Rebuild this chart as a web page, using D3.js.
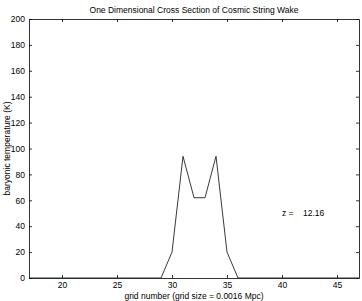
<!DOCTYPE html>
<html>
<head>
<meta charset="utf-8">
<script src="https://cdn.jsdelivr.net/npm/d3@7"></script>
<style>
body { margin: 0; background: #fff; }
svg { display: block; font-family: "Liberation Sans", Arial, sans-serif; }
</style>
</head>
<body>
<svg id="plot" width="362" height="301"></svg>
<script>
let svg = d3.select("#plot")

let margin_left = 29, margin_top = 19, plot_w = 330, plot_h = 259

// grid cells and temperature values
let grid = d3.range(17, 48)
let peak_x = [29, 30, 31, 32, 33, 34, 35, 36]
let peak_y = [0, 20, 94, 62, 62, 94, 20, 0]
let temps = grid.map(g => { let i = peak_x.indexOf(g); return i < 0 ? 0 : peak_y[i] })

let x_ticks = [20, 25, 30, 35, 40, 45]
let y_ticks = [0, 20, 40, 60, 80, 100, 120, 140, 160, 180, 200]

let x_scale = d3.scaleLinear([17, 47], [margin_left, margin_left + plot_w])
let y_scale = d3.scaleLinear([0, 200], [margin_top + plot_h, margin_top])

// axes: ticks point inward, box on all four sides
let gx = svg.append("g").attr("transform", `translate(0,${margin_top + plot_h})`)
  .call(d3.axisBottom(x_scale).tickValues(x_ticks).tickSizeInner(-3).tickSizeOuter(0).tickPadding(4))
let gxt = svg.append("g").attr("transform", `translate(0,${margin_top})`)
  .call(d3.axisTop(x_scale).tickValues(x_ticks).tickSizeInner(-3).tickSizeOuter(0).tickFormat(""))
let gy = svg.append("g").attr("transform", `translate(${margin_left},0)`)
  .call(d3.axisLeft(y_scale).tickValues(y_ticks).tickSizeInner(-3).tickSizeOuter(0).tickPadding(4))
let gyr = svg.append("g").attr("transform", `translate(${margin_left + plot_w},0)`)
  .call(d3.axisRight(y_scale).tickValues(y_ticks).tickSizeInner(-3).tickSizeOuter(0).tickFormat(""))

svg.selectAll(".domain, .tick line").attr("stroke", "#000").attr("stroke-width", 0.8)
svg.selectAll(".tick text").attr("font-size", 8.5).attr("fill", "#000")
  .attr("font-family", "Liberation Sans, Arial, sans-serif")

let line = d3.line().x((d, i) => x_scale(grid[i])).y(d => y_scale(d))
svg.append("path")
  .datum(temps)
  .attr("d", line)
  .attr("fill", "none")
  .attr("stroke", "#222")
  .attr("stroke-width", 0.9)

svg.append("text")
  .attr("x", margin_left + plot_w / 2).attr("y", 13)
  .attr("text-anchor", "middle").attr("font-size", 8.5)
  .text("One Dimensional Cross Section of Cosmic String Wake")

svg.append("text")
  .attr("x", margin_left + plot_w / 2).attr("y", 298.5)
  .attr("text-anchor", "middle").attr("font-size", 8.5)
  .text("grid number (grid size = 0.0016 Mpc)")

svg.append("text")
  .attr("transform", `translate(10,${margin_top + plot_h / 2}) rotate(-90)`)
  .attr("text-anchor", "middle").attr("font-size", 8.5)
  .text("baryonic temperature (K)")

svg.append("text")
  .attr("x", x_scale(40)).attr("y", y_scale(48))
  .attr("font-size", 8.5).attr("xml:space", "preserve")
  .text("z =    12.16")
</script>
</body>
</html>
